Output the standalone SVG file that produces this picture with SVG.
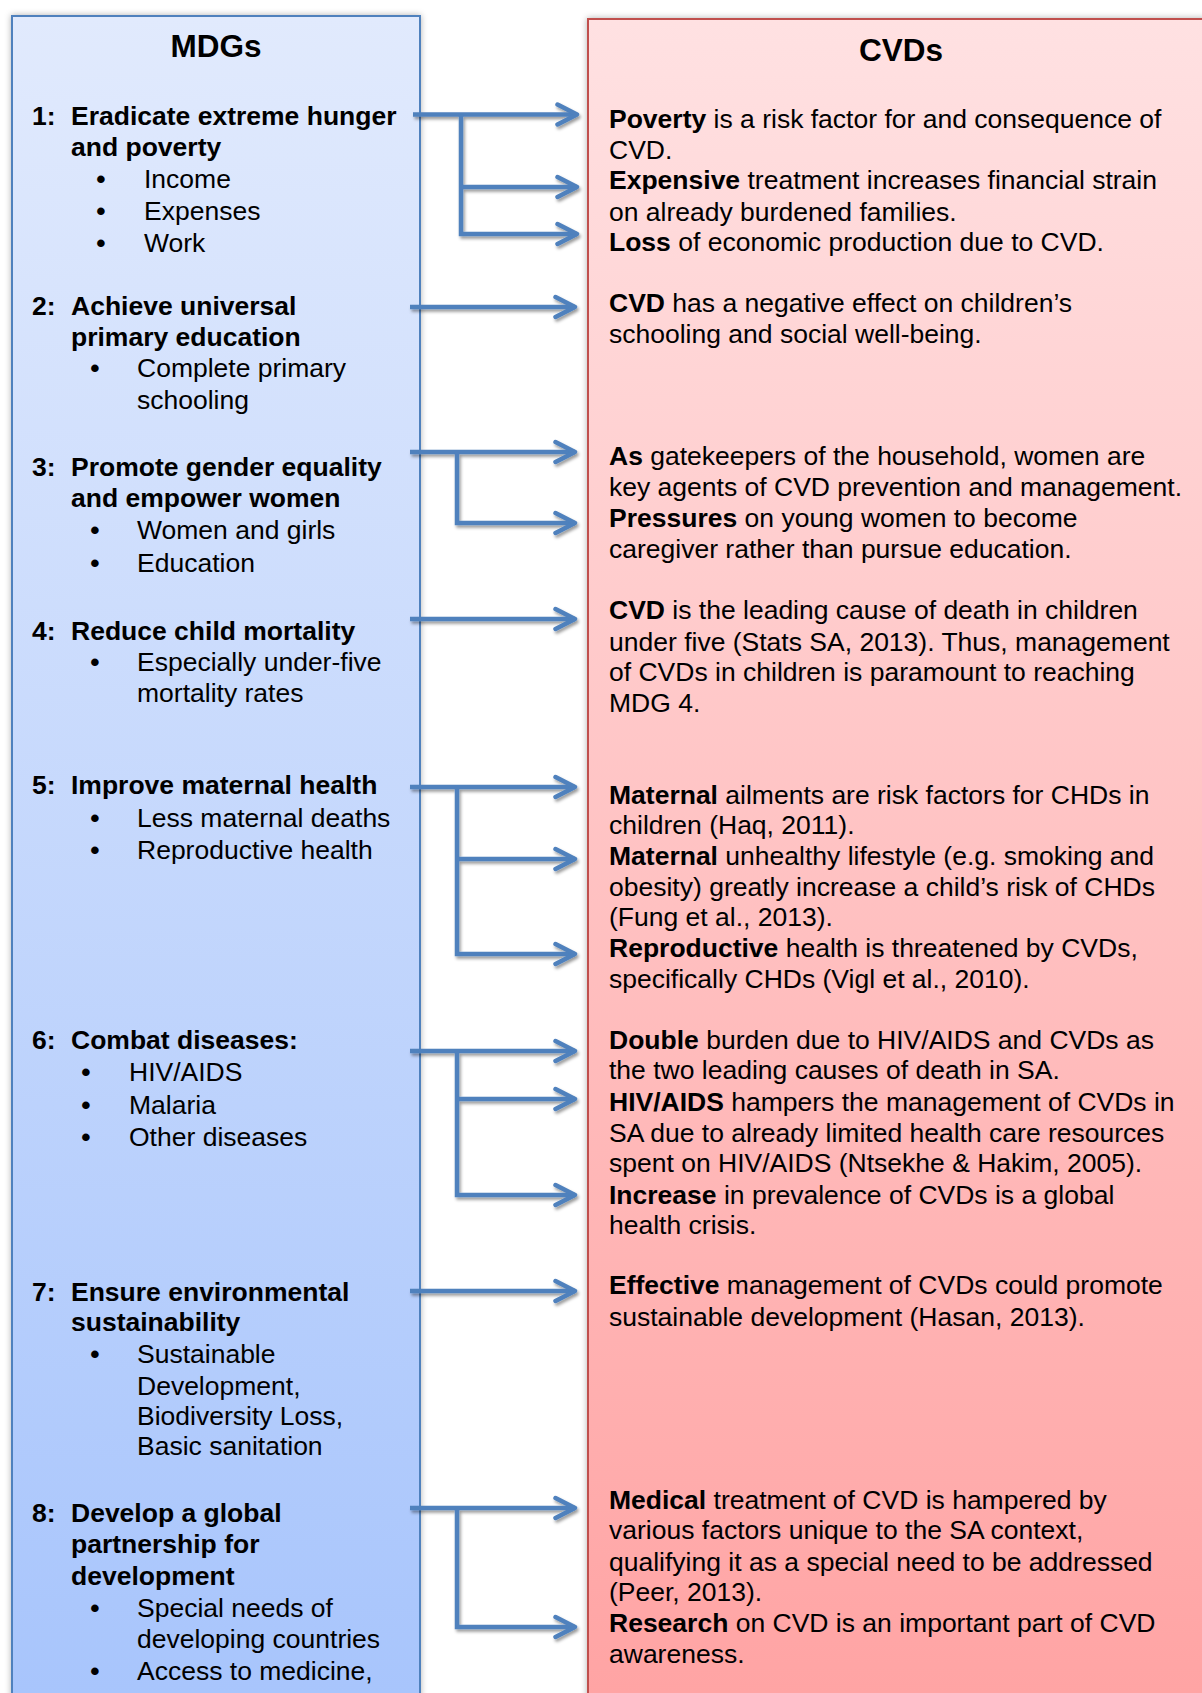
<svg xmlns="http://www.w3.org/2000/svg" width="1202" height="1693" viewBox="0 0 1202 1693">
<style>
.t{font-family:"Liberation Sans",Arial,Helvetica,sans-serif;font-size:26.5px;fill:#000}
.b{font-weight:bold}
.h{font-family:"Liberation Sans",Arial,Helvetica,sans-serif;font-size:31.5px;font-weight:bold;text-anchor:middle;fill:#000}
.bul{font-family:"Liberation Sans",Arial,Helvetica,sans-serif;font-size:26.5px;font-weight:bold;text-anchor:middle;fill:#000}
.conn{fill:none;stroke:#4F81BD;stroke-width:4.5}
</style>
<defs>
<linearGradient id="gBlue" gradientUnits="userSpaceOnUse" x1="0" y1="16" x2="0" y2="1693">
<stop offset="0" stop-color="#E1EAFD"/>
<stop offset="1" stop-color="#A8C5FC"/>
</linearGradient>
<linearGradient id="gRed" gradientUnits="userSpaceOnUse" x1="0" y1="19" x2="0" y2="1693">
<stop offset="0" stop-color="#FFE1E2"/>
<stop offset="1" stop-color="#FFA4A4"/>
</linearGradient>
<filter id="boxShadow" x="-10%" y="-5%" width="120%" height="110%">
<feDropShadow dx="0" dy="0" stdDeviation="3" flood-color="#000" flood-opacity="0.3"/>
</filter>
<filter id="arrShadow" x="-10%" y="-10%" width="130%" height="130%">
<feDropShadow dx="1.5" dy="2.5" stdDeviation="1.8" flood-color="#000" flood-opacity="0.4"/>
</filter>
<marker id="chev" viewBox="0 0 26 26" refX="22" refY="13" markerWidth="26" markerHeight="26" markerUnits="userSpaceOnUse" orient="auto">
<path d="M2.5,3 L22,13 L2.5,23" fill="none" stroke="#4F81BD" stroke-width="4.5" stroke-linecap="round" stroke-linejoin="round"/>
</marker>
</defs>

<g id="mdgs">
<rect x="12" y="16" width="408" height="1700" fill="url(#gBlue)" stroke="#4F81BD" stroke-width="2" filter="url(#boxShadow)"/>
<text class="h" x="216" y="57">MDGs</text>
<g id="mdg1">
<text class="t b" x="32" y="125">1:</text>
<text class="t b" x="71" y="125">Eradicate extreme hunger</text>
<text class="t b" x="71" y="156">and poverty</text>
<text class="bul" x="101" y="188">•</text><text class="t" x="144" y="188">Income</text>
<text class="bul" x="101" y="220">•</text><text class="t" x="144" y="220">Expenses</text>
<text class="bul" x="101" y="252">•</text><text class="t" x="144" y="252">Work</text>
</g>
<g id="mdg2">
<text class="t b" x="32" y="315">2:</text>
<text class="t b" x="71" y="315">Achieve universal</text>
<text class="t b" x="71" y="346">primary education</text>
<text class="bul" x="95" y="377">•</text><text class="t" x="137" y="377">Complete primary</text>
<text class="t" x="137" y="409">schooling</text>
</g>
<g id="mdg3">
<text class="t b" x="32" y="476">3:</text>
<text class="t b" x="71" y="476">Promote gender equality</text>
<text class="t b" x="71" y="507">and empower women</text>
<text class="bul" x="95" y="539">•</text><text class="t" x="137" y="539">Women and girls</text>
<text class="bul" x="95" y="572">•</text><text class="t" x="137" y="572">Education</text>
</g>
<g id="mdg4">
<text class="t b" x="32" y="640">4:</text>
<text class="t b" x="71" y="640">Reduce child mortality</text>
<text class="bul" x="95" y="671">•</text><text class="t" x="137" y="671">Especially under-five</text>
<text class="t" x="137" y="702">mortality rates</text>
</g>
<g id="mdg5">
<text class="t b" x="32" y="794">5:</text>
<text class="t b" x="71" y="794">Improve maternal health</text>
<text class="bul" x="95" y="827">•</text><text class="t" x="137" y="827">Less maternal deaths</text>
<text class="bul" x="95" y="859">•</text><text class="t" x="137" y="859">Reproductive health</text>
</g>
<g id="mdg6">
<text class="t b" x="32" y="1049">6:</text>
<text class="t b" x="71" y="1049">Combat diseases:</text>
<text class="bul" x="86" y="1081">•</text><text class="t" x="129" y="1081">HIV/AIDS</text>
<text class="bul" x="86" y="1114">•</text><text class="t" x="129" y="1114">Malaria</text>
<text class="bul" x="86" y="1146">•</text><text class="t" x="129" y="1146">Other diseases</text>
</g>
<g id="mdg7">
<text class="t b" x="32" y="1301">7:</text>
<text class="t b" x="71" y="1301">Ensure environmental</text>
<text class="t b" x="71" y="1331">sustainability</text>
<text class="bul" x="95" y="1363">•</text><text class="t" x="137" y="1363">Sustainable</text>
<text class="t" x="137" y="1395">Development,</text>
<text class="t" x="137" y="1425">Biodiversity Loss,</text>
<text class="t" x="137" y="1455">Basic sanitation</text>
</g>
<g id="mdg8">
<text class="t b" x="32" y="1522">8:</text>
<text class="t b" x="71" y="1522">Develop a global</text>
<text class="t b" x="71" y="1553">partnership for</text>
<text class="t b" x="71" y="1585">development</text>
<text class="bul" x="95" y="1617">•</text><text class="t" x="137" y="1617">Special needs of</text>
<text class="t" x="137" y="1648">developing countries</text>
<text class="bul" x="95" y="1680">•</text><text class="t" x="137" y="1680">Access to medicine,</text>
</g>
</g>

<g id="cvds">
<rect x="588" y="19" width="626" height="1700" fill="url(#gRed)" stroke="#C0504D" stroke-width="2" filter="url(#boxShadow)"/>
<text class="h" x="901" y="61">CVDs</text>
<g id="cvd1">
<text class="t" x="609" y="128"><tspan class="b">Poverty</tspan> is a risk factor for and consequence of</text>
<text class="t" x="609" y="159">CVD.</text>
<text class="t" x="609" y="189"><tspan class="b">Expensive</tspan> treatment increases financial strain</text>
<text class="t" x="609" y="221">on already burdened families.</text>
<text class="t" x="609" y="251"><tspan class="b">Loss</tspan> of economic production due to CVD.</text>
</g>
<g id="cvd2">
<text class="t" x="609" y="312"><tspan class="b">CVD</tspan> has a negative effect on children’s</text>
<text class="t" x="609" y="343">schooling and social well-being.</text>
</g>
<g id="cvd3">
<text class="t" x="609" y="465"><tspan class="b">As</tspan> gatekeepers of the household, women are</text>
<text class="t" x="609" y="496">key agents of CVD prevention and management.</text>
<text class="t" x="609" y="527"><tspan class="b">Pressures</tspan> on young women to become</text>
<text class="t" x="609" y="558">caregiver rather than pursue education.</text>
</g>
<g id="cvd4">
<text class="t" x="609" y="619"><tspan class="b">CVD</tspan> is the leading cause of death in children</text>
<text class="t" x="609" y="651">under five (Stats SA, 2013). Thus, management</text>
<text class="t" x="609" y="681">of CVDs in children is paramount to reaching</text>
<text class="t" x="609" y="712">MDG 4.</text>
</g>
<g id="cvd5">
<text class="t" x="609" y="804"><tspan class="b">Maternal</tspan> ailments are risk factors for CHDs in</text>
<text class="t" x="609" y="834">children (Haq, 2011).</text>
<text class="t" x="609" y="865"><tspan class="b">Maternal</tspan> unhealthy lifestyle (e.g. smoking and</text>
<text class="t" x="609" y="896">obesity) greatly increase a child’s risk of CHDs</text>
<text class="t" x="609" y="926">(Fung et al., 2013).</text>
<text class="t" x="609" y="957"><tspan class="b">Reproductive</tspan> health is threatened by CVDs,</text>
<text class="t" x="609" y="988">specifically CHDs (Vigl et al., 2010).</text>
</g>
<g id="cvd6">
<text class="t" x="609" y="1049"><tspan class="b">Double</tspan> burden due to HIV/AIDS and CVDs as</text>
<text class="t" x="609" y="1079">the two leading causes of death in SA.</text>
<text class="t" x="609" y="1111"><tspan class="b">HIV/AIDS</tspan> hampers the management of CVDs in</text>
<text class="t" x="609" y="1142">SA due to already limited health care resources</text>
<text class="t" x="609" y="1172">spent on HIV/AIDS (Ntsekhe &amp; Hakim, 2005).</text>
<text class="t" x="609" y="1204"><tspan class="b">Increase</tspan> in prevalence of CVDs is a global</text>
<text class="t" x="609" y="1234">health crisis.</text>
</g>
<g id="cvd7">
<text class="t" x="609" y="1294"><tspan class="b">Effective</tspan> management of CVDs could promote</text>
<text class="t" x="609" y="1326">sustainable development (Hasan, 2013).</text>
</g>
<g id="cvd8">
<text class="t" x="609" y="1509"><tspan class="b">Medical</tspan> treatment of CVD is hampered by</text>
<text class="t" x="609" y="1539">various factors unique to the SA context,</text>
<text class="t" x="609" y="1571">qualifying it as a special need to be addressed</text>
<text class="t" x="609" y="1601">(Peer, 2013).</text>
<text class="t" x="609" y="1632"><tspan class="b">Research</tspan> on CVD is an important part of CVD</text>
<text class="t" x="609" y="1663">awareness.</text>
</g>
</g>

<g id="connectors" filter="url(#arrShadow)">
<path class="conn" d="M413,114.5 H577" marker-end="url(#chev)"/>
<path class="conn" d="M461,114.5 V234 H577" marker-end="url(#chev)"/>
<path class="conn" d="M461,187 H577" marker-end="url(#chev)"/>

<path class="conn" d="M410,307 H575" marker-end="url(#chev)"/>

<path class="conn" d="M410,452 H575" marker-end="url(#chev)"/>
<path class="conn" d="M457,452 V523 H575" marker-end="url(#chev)"/>

<path class="conn" d="M410,619 H575" marker-end="url(#chev)"/>

<path class="conn" d="M410,787 H575" marker-end="url(#chev)"/>
<path class="conn" d="M457,787 V954 H575" marker-end="url(#chev)"/>
<path class="conn" d="M457,859 H575" marker-end="url(#chev)"/>

<path class="conn" d="M410,1051 H575" marker-end="url(#chev)"/>
<path class="conn" d="M457,1051 V1195 H575" marker-end="url(#chev)"/>
<path class="conn" d="M457,1099 H575" marker-end="url(#chev)"/>

<path class="conn" d="M410,1291 H575" marker-end="url(#chev)"/>

<path class="conn" d="M410,1508 H575" marker-end="url(#chev)"/>
<path class="conn" d="M457,1508 V1627 H575" marker-end="url(#chev)"/>
</g>
</svg>
